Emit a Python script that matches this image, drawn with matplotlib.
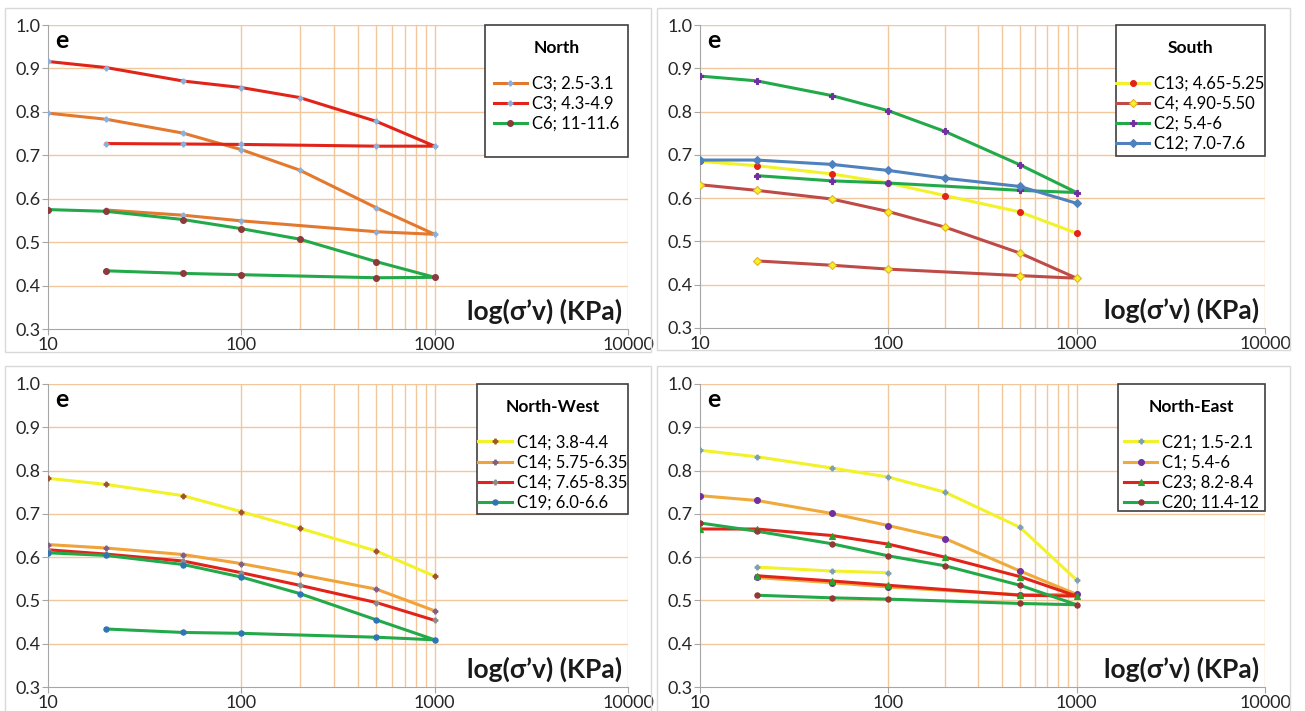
import matplotlib.pyplot as plt
import numpy as np
from matplotlib.patches import Rectangle

plt.rcParams['font.family'] = ['Lato', 'Open Sans', 'DejaVu Sans']

nan = np.nan

# pressure steps (kPa): loading 10 -> 1000, then unloading back to 20
pressure = [10, 20, 50, 100, 200, 500, 1000, 500, 100, 50, 20]

# North
north_labels = ['C3; 2.5-3.1', 'C3; 4.3-4.9', 'C6; 11-11.6']
north_c3_a = [0.797, 0.783, 0.751, 0.713, 0.666, 0.579, 0.518, 0.524, 0.549, 0.562, 0.574]
north_c3_b = [0.916, 0.902, 0.871, 0.856, 0.833, 0.778, 0.721, 0.721, 0.725, 0.726, 0.727]
north_c6 = [0.575, 0.571, 0.552, 0.531, 0.507, 0.455, 0.419, 0.418, 0.425, 0.428, 0.434]

# South
south_labels = ['C13; 4.65-5.25', 'C4; 4.90-5.50', 'C2; 5.4-6', 'C12; 7.0-7.6']
south_c13 = [0.685, 0.675, 0.656, 0.635, 0.606, 0.568, 0.519]
south_c4 = [0.631, 0.618, 0.598, 0.569, 0.533, 0.473, 0.415, 0.421, 0.436, 0.445, 0.455]
south_c2 = [0.882, 0.871, 0.837, 0.802, 0.754, 0.677, 0.613, 0.618, 0.635, 0.640, 0.652]
south_c12 = [0.688, 0.688, 0.678, 0.664, 0.646, 0.627, 0.588]

# North-West
nw_labels = ['C14; 3.8-4.4', 'C14; 5.75-6.35', 'C14; 7.65-8.35', 'C19; 6.0-6.6']
nw_c14_a = [0.782, 0.768, 0.742, 0.705, 0.667, 0.614, 0.556]
nw_c14_b = [0.629, 0.621, 0.606, 0.585, 0.560, 0.526, 0.476]
nw_c14_c = [0.617, 0.607, 0.591, 0.564, 0.535, 0.495, 0.454]
nw_c19 = [0.610, 0.604, 0.583, 0.554, 0.516, 0.455, 0.409, 0.415, 0.424, 0.426, 0.434]

# North-East
ne_labels = ['C21; 1.5-2.1', 'C1; 5.4-6', 'C23; 8.2-8.4', 'C20; 11.4-12']
ne_c21 = [0.847, 0.832, 0.806, 0.785, 0.750, 0.669, 0.547, nan, 0.564, 0.568, 0.577]
ne_c1 = [0.742, 0.731, 0.701, 0.673, 0.643, 0.568, 0.514, 0.513, 0.531, 0.541, 0.553]
ne_c23 = [0.665, 0.665, 0.650, 0.630, 0.600, 0.555, 0.510, 0.512, 0.535, 0.545, 0.557]
ne_c20 = [0.679, 0.660, 0.631, 0.603, 0.580, 0.535, 0.490, 0.493, 0.503, 0.506, 0.512]

# line colour, marker, marker colour, marker edge, marker size
north_styles = [('#E3782F', 'P', '#8EAFD8', '#8EAFD8', 3.5),
                ('#E2231A', 'P', '#8EAFD8', '#8EAFD8', 3.5),
                ('#22A94A', 'o', '#8B3A3E', '#8B3A3E', 4.2)]
south_styles = [('#F2F22A', 'o', '#E2231A', '#E2231A', 4.2),
                ('#BE4B48', 'D', '#F2F22A', '#E8B020', 4.2),
                ('#22A94A', 'P', '#7030A0', '#7030A0', 3.8),
                ('#4F81BD', 'D', '#4F81BD', '#4F81BD', 3.8)]
nw_styles = [('#F2F22A', 'P', '#A0522D', '#A0522D', 3.5),
             ('#F0A33A', 'P', '#7F6084', '#7F6084', 3.5),
             ('#E2231A', 'P', '#8C8C8C', '#8C8C8C', 3.5),
             ('#22A94A', 'o', '#2E75B6', '#2E75B6', 3.8)]
ne_styles = [('#F2F22A', 'P', '#7FA0B0', '#7FA0B0', 3.5),
             ('#F0A93B', 'o', '#7030A0', '#7030A0', 4.2),
             ('#E2231A', '^', '#2CA02C', '#2CA02C', 4.2),
             ('#22A94A', 'o', '#953735', '#953735', 3.8)]

grid_c = '#F3C79C'
axis_c = '#A6A6A6'

fig = plt.figure(figsize=(13.05, 7.11), dpi=100)

# light frames around each panel (figure pixels: x0, y_top, x1, y_bottom)
for x0, yt, x1, yb in [(5, 8, 651, 352), (657, 8, 1290, 350),
                       (5, 366, 651, 712), (657, 366, 1290, 712)]:
    fig.patches.append(Rectangle((x0 / 1305, 1 - yb / 711), (x1 - x0) / 1305, (yb - yt) / 711,
                                 transform=fig.transFigure, fill=False,
                                 edgecolor='#D9D9D9', linewidth=1))


def panel(rect, title, labels, series, styles, box):
    ax = fig.add_axes(rect)
    for lab, e, st in zip(labels, series, styles):
        ax.plot(pressure[:len(e)], e, color=st[0], lw=2.2, marker=st[1],
                mfc=st[2], mec=st[3], ms=st[4], mew=0.8, label=lab, zorder=3)
    ax.set_xscale('log')
    ax.set_xlim(10, 10000)
    ax.set_ylim(0.3, 1.0)
    ax.set_xticks([10, 100, 1000, 10000])
    ax.set_xticklabels(['10', '100', '1000', '10000'])
    ax.xaxis.set_minor_locator(plt.NullLocator())
    ax.set_yticks(np.arange(0.3, 1.01, 0.1))
    ax.set_yticklabels(['%.1f' % v for v in np.arange(0.3, 1.01, 0.1)])
    for v in np.arange(0.4, 1.01, 0.1):
        ax.axhline(v, color=grid_c, lw=1, zorder=1)
    for v in [100, 200, 300, 400, 500, 600, 700, 800, 900, 1000, 10000]:
        ax.axvline(v, color=grid_c, lw=1, zorder=1)
    for s in ['top', 'right']:
        ax.spines[s].set_visible(False)
    for s in ['left', 'bottom']:
        ax.spines[s].set_color(axis_c)
    ax.tick_params(direction='out', length=4, color=axis_c, labelsize=13,
                   labelcolor='#262626', pad=1.5)
    ax.text(0.012, 0.925, 'e', transform=ax.transAxes, fontsize=18,
            fontweight='bold', ha='left', va='baseline')
    ax.text(0.99, 0.03, 'log(σ’v) (KPa)', transform=ax.transAxes, fontsize=19,
            fontweight='bold', ha='right', va='baseline', color='#1a1a1a')

    # legend box
    bx0, by0 = box
    hpx = rect[3] * 711
    ax.add_patch(Rectangle((bx0, by0), 1 - bx0, 1 - by0, transform=ax.transAxes,
                           facecolor='white', edgecolor='#404040', lw=1.2,
                           zorder=5, clip_on=False))
    cx = (bx0 + 1) / 2
    ax.text(cx, 1 - 23 / hpx, title, transform=ax.transAxes, fontsize=12.5,
            fontweight='bold', ha='center', va='center', zorder=6)
    leg = ax.legend(loc='upper center', bbox_to_anchor=(cx, 1 - 42 / hpx),
                    frameon=False, fontsize=12, borderpad=0, labelspacing=0.25,
                    handlelength=2.0, handletextpad=0.3, numpoints=1)
    leg.set_zorder(6)
    return ax


panel([48 / 1305, 1 - 329 / 711, 580 / 1305, 304 / 711], 'North', north_labels,
      [north_c3_a, north_c3_b, north_c6], north_styles, (0.753, 0.566))
panel([700 / 1305, 1 - 328 / 711, 565 / 1305, 303 / 711], 'South', south_labels,
      [south_c13, south_c4, south_c2, south_c12], south_styles, (0.736, 0.568))
panel([48 / 1305, 1 - 687 / 711, 580 / 1305, 303 / 711], 'North-West', nw_labels,
      [nw_c14_a, nw_c14_b, nw_c14_c, nw_c19], nw_styles, (0.74, 0.572))
panel([700 / 1305, 1 - 687 / 711, 565 / 1305, 303 / 711], 'North-East', ne_labels,
      [ne_c21, ne_c1, ne_c23, ne_c20], ne_styles, (0.74, 0.582))

fig.savefig('out.png', dpi=100)
